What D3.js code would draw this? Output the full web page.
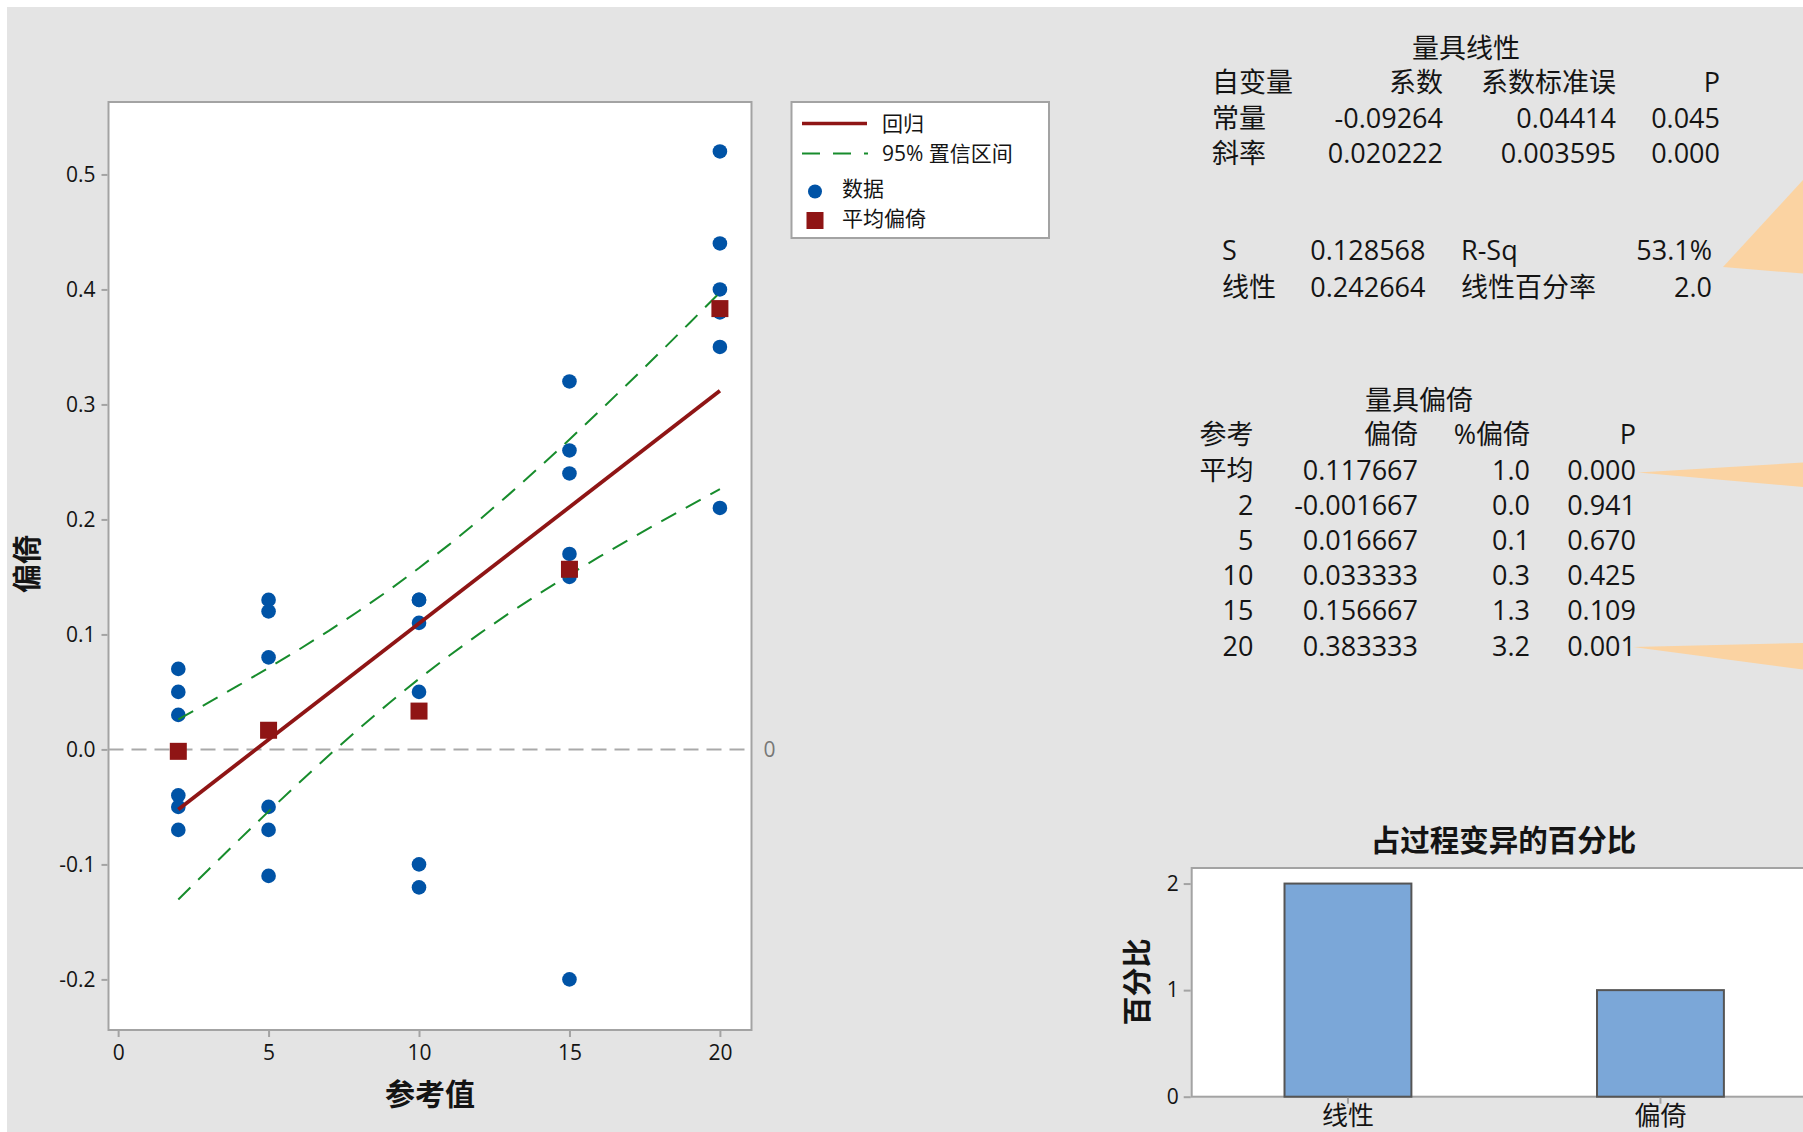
<!DOCTYPE html>
<html>
<head>
<meta charset="utf-8">
<script src="https://cdn.jsdelivr.net/npm/d3@7"></script>
<style>
  body { margin: 0; background: #ffffff; }
  svg { display: block; }
  text { font-family: 'Open Sans', 'Noto Sans CJK SC', sans-serif; }
</style>
</head>
<body>
<svg id="chart" width="1803" height="1132"></svg>
<script>
// ---- measurements: reference value and bias of each part ----
const pointRef  = [2, 2, 2, 2, 2, 2,
                   5, 5, 5, 5, 5, 5,
                   10, 10, 10, 10, 10, 10,
                   15, 15, 15, 15, 15, 15,
                   20, 20, 20, 20, 20, 20];
const pointBias = [0.07, 0.05, 0.03, -0.04, -0.05, -0.07,
                   0.13, 0.12, 0.08, -0.05, -0.07, -0.11,
                   0.13, 0.13, 0.11, 0.05, -0.10, -0.12,
                   0.32, 0.26, 0.24, 0.17, 0.15, -0.20,
                   0.52, 0.44, 0.40, 0.38, 0.35, 0.21];

// average bias per reference value
const meanRef  = [2, 5, 10, 15, 20];
const meanBias = [-0.001667, 0.016667, 0.033333, 0.156667, 0.383333];

// fitted regression: constant, slope
const fitConstant = -0.09264;
const fitSlope = 0.020222;
const fitRange = [2, 20];

// 95% confidence band around the fit
const bandRef   = [2, 3, 4, 5, 6, 7, 8, 9, 10, 11, 12, 13, 14, 15, 16, 17, 18, 19, 20];
const bandUpper = [0.0261, 0.0407, 0.0556, 0.0709, 0.0867, 0.1031, 0.1204, 0.1385, 0.1578, 0.1781,
                   0.1995, 0.2220, 0.2454, 0.2695, 0.2943, 0.3195, 0.3451, 0.3711, 0.3973];
const bandLower = [-0.1305, -0.1046, -0.0791, -0.0539, -0.0293, -0.0053, 0.0179, 0.0402, 0.0614, 0.0815,
                   0.1005, 0.1185, 0.1356, 0.1519, 0.1676, 0.1828, 0.1976, 0.2121, 0.2263];

const xTicks = [0, 5, 10, 15, 20];
const yTicks = [-0.2, -0.1, 0.0, 0.1, 0.2, 0.3, 0.4, 0.5];

// ---- gauge linearity table ----
const linTitle = "量具线性";
const linHeader = ["自变量", "系数", "系数标准误", "P"];
const linRows = [
  ["常量", "-0.09264", "0.04414", "0.045"],
  ["斜率", "0.020222", "0.003595", "0.000"]
];
const fitStats = [
  ["S", "0.128568", "R-Sq", "53.1%"],
  ["线性", "0.242664", "线性百分率", "2.0"]
];

// ---- gauge bias table ----
const biasTitle = "量具偏倚";
const biasHeader = ["参考", "偏倚", "%偏倚", "P"];
const biasRows = [
  ["平均", "0.117667", "1.0", "0.000"],
  ["2", "-0.001667", "0.0", "0.941"],
  ["5", "0.016667", "0.1", "0.670"],
  ["10", "0.033333", "0.3", "0.425"],
  ["15", "0.156667", "1.3", "0.109"],
  ["20", "0.383333", "3.2", "0.001"]
];

// ---- percent of process variation ----
const varCategories = ["线性", "偏倚"];
const varPercent = [2.0, 1.0];
const varTicks = [0, 1, 2];

// ---- colours ----
const C = {
  bg: "#e4e4e4", frame: "#a3a3a3", ink: "#141414",
  dot: "#0053a6", mean: "#8f1515", fit: "#8f1515", band: "#178c2c",
  ref: "#a9a9a9", bar: "#7ba7d8", barEdge: "#555555", callout: "#fbd3a2"
};

const svg = d3.select("#chart");
svg.append("rect").attr("x", 7).attr("y", 7).attr("width", 1796).attr("height", 1125).attr("fill", C.bg);

// ================= bias vs reference plot =================
const P = { left: 108.5, right: 751.5, top: 102, bottom: 1030 };
const x = d3.scaleLinear().domain([-0.32, 21.05]).range([P.left, P.right]);
const y = d3.scaleLinear().domain([-0.244, 0.563]).range([P.bottom, P.top]);

svg.append("rect")
  .attr("x", P.left).attr("y", P.top)
  .attr("width", P.right - P.left).attr("height", P.bottom - P.top)
  .attr("fill", "#fff").attr("stroke", C.frame).attr("stroke-width", 2);

const yAxis = svg.append("g").attr("transform", `translate(${P.left - 1},0)`)
  .call(d3.axisLeft(y).tickValues(yTicks).tickSize(6).tickPadding(6).tickFormat(d => d.toFixed(1)));
const xAxis = svg.append("g").attr("transform", `translate(0,${P.bottom + 1})`)
  .call(d3.axisBottom(x).tickValues(xTicks).tickSize(6).tickPadding(8).tickFormat(d => String(d)));
[yAxis, xAxis].forEach(g => {
  g.select(".domain").remove();
  g.selectAll(".tick line").attr("stroke", C.frame).attr("stroke-width", 2);
  g.selectAll(".tick text").attr("fill", C.ink).style("font-size", "21px");
});

// zero reference line
svg.append("line")
  .attr("x1", P.left).attr("x2", P.right).attr("y1", y(0)).attr("y2", y(0))
  .attr("stroke", C.ref).attr("stroke-width", 2).attr("stroke-dasharray", "15,8");
svg.append("text").attr("x", P.right + 12).attr("y", y(0)).attr("dy", "0.35em")
  .attr("fill", "#777").style("font-size", "21px").text("0");

// data points
svg.append("g").selectAll("circle").data(pointRef.map((r, i) => [r, pointBias[i]]))
  .join("circle")
  .attr("cx", d => x(d[0])).attr("cy", d => y(d[1])).attr("r", 7.3).attr("fill", C.dot);

// confidence band
const bandLine = d3.line().x(d => x(d[0])).y(d => y(d[1]));
[bandUpper, bandLower].forEach(vals => {
  svg.append("path").datum(bandRef.map((r, i) => [r, vals[i]]))
    .attr("d", bandLine).attr("fill", "none")
    .attr("stroke", C.band).attr("stroke-width", 2).attr("stroke-dasharray", "17,11");
});

// fitted line
svg.append("path").datum(fitRange.map(r => [r, fitConstant + fitSlope * r]))
  .attr("d", bandLine).attr("fill", "none").attr("stroke", C.fit).attr("stroke-width", 3.8);

// average bias squares
svg.append("g").selectAll("rect").data(meanRef.map((r, i) => [r, meanBias[i]]))
  .join("rect")
  .attr("x", d => x(d[0]) - 8.5).attr("y", d => y(d[1]) - 8.5)
  .attr("width", 17).attr("height", 17).attr("fill", C.mean);

// axis titles
svg.append("text").attr("x", (P.left + P.right) / 2).attr("y", 1094).attr("dy", "0.35em")
  .attr("text-anchor", "middle").attr("fill", C.ink)
  .style("font-size", "30px").style("font-weight", "bold").text("参考值");
svg.append("text").attr("transform", "translate(27.5,564) rotate(-90)").attr("dy", "0.35em")
  .attr("text-anchor", "middle").attr("fill", C.ink)
  .style("font-size", "29px").style("font-weight", "bold").text("偏倚");

// legend
const L = svg.append("g");
L.append("rect").attr("x", 791.5).attr("y", 102).attr("width", 257.5).attr("height", 136)
  .attr("fill", "#fff").attr("stroke", C.frame).attr("stroke-width", 2);
L.append("line").attr("x1", 802).attr("x2", 867).attr("y1", 123.5).attr("y2", 123.5)
  .attr("stroke", C.fit).attr("stroke-width", 3.5);
L.append("line").attr("x1", 802).attr("x2", 868).attr("y1", 153.5).attr("y2", 153.5)
  .attr("stroke", C.band).attr("stroke-width", 2).attr("stroke-dasharray", "18,13");
L.append("circle").attr("cx", 815).attr("cy", 191.5).attr("r", 7).attr("fill", C.dot);
L.append("rect").attr("x", 806.5).attr("y", 212).attr("width", 17).attr("height", 17).attr("fill", C.mean);
[["回归", 882, 130.5], ["95% 置信区间", 882, 160.5], ["数据", 842, 196], ["平均偏倚", 842, 225.5]]
  .forEach(([t, tx, ty]) => L.append("text").attr("x", tx).attr("y", ty)
    .attr("fill", C.ink).style("font-size", "21px").text(t));

// ================= callout shapes =================
const callouts = [
  [[1723, 267], [1803, 180], [1803, 273.5]],
  [[1638, 472.5], [1803, 462.5], [1803, 487]],
  [[1633, 647], [1803, 643], [1803, 669.5]]
];
svg.append("g").selectAll("polygon").data(callouts).join("polygon")
  .attr("points", d => d.map(p => p.join(",")).join(" ")).attr("fill", C.callout);

// ================= text tables =================
function row(cells, cols, yBase, size) {
  cells.forEach((t, i) => {
    const [cx, anchor] = cols[i];
    svg.append("text").attr("x", cx).attr("y", yBase).attr("text-anchor", anchor)
      .attr("fill", C.ink).style("font-size", size + "px").text(t);
  });
}

// linearity
svg.append("text").attr("x", 1466).attr("y", 58).attr("text-anchor", "middle")
  .attr("fill", C.ink).style("font-size", "27px").text(linTitle);
const linCols = [[1212, "start"], [1443, "end"], [1616, "end"], [1720, "end"]];
row(linHeader, linCols, 92, 27);
linRows.forEach((r, i) => row(r, linCols, 127.5 + i * 35.8, 27));
const statCols = [[1222, "start"], [1425.5, "end"], [1461, "start"], [1712, "end"]];
fitStats.forEach((r, i) => row(r, statCols, 260 + i * 36.7, 27));

// bias
svg.append("text").attr("x", 1419).attr("y", 409.5).attr("text-anchor", "middle")
  .attr("fill", C.ink).style("font-size", "27px").text(biasTitle);
const biasCols = [[1253.5, "end"], [1418, "end"], [1530, "end"], [1636, "end"]];
row(biasHeader, biasCols, 444, 27);
biasRows.forEach((r, i) => row(r, biasCols, 480 + i * 35.1, 27));

// ================= percent of process variation =================
const B = { left: 1191.7, right: 1830, top: 868, bottom: 1096.7 };
const by = d3.scaleLinear().domain([0, 2.146]).range([B.bottom, B.top]);
const bx = d3.scaleBand().domain(varCategories).range([B.left, B.left + 625])
  .paddingInner(0.594).paddingOuter(0.297);

svg.append("rect").attr("x", B.left).attr("y", B.top)
  .attr("width", B.right - B.left).attr("height", B.bottom - B.top)
  .attr("fill", "#fff").attr("stroke", C.frame).attr("stroke-width", 2);

svg.append("g").selectAll("rect").data(varCategories)
  .join("rect")
  .attr("x", d => bx(d)).attr("width", bx.bandwidth())
  .attr("y", (d, i) => by(varPercent[i])).attr("height", (d, i) => B.bottom - by(varPercent[i]))
  .attr("fill", C.bar).attr("stroke", C.barEdge).attr("stroke-width", 2);

const byAxis = svg.append("g").attr("transform", `translate(${B.left - 1},0)`)
  .call(d3.axisLeft(by).tickValues(varTicks).tickSize(7).tickPadding(5).tickFormat(d => String(d)));
const bxAxis = svg.append("g").attr("transform", `translate(0,${B.bottom + 1})`)
  .call(d3.axisBottom(bx).tickSize(6).tickPadding(3));
byAxis.selectAll(".tick text").style("font-size", "21px");
bxAxis.selectAll(".tick text").style("font-size", "26px");
[byAxis, bxAxis].forEach(g => {
  g.select(".domain").remove();
  g.selectAll(".tick line").attr("stroke", C.frame).attr("stroke-width", 2);
  g.selectAll(".tick text").attr("fill", C.ink);
});

svg.append("text").attr("x", 1503.5).attr("y", 851).attr("text-anchor", "middle")
  .attr("fill", C.ink).style("font-size", "29.5px").style("font-weight", "bold").text("占过程变异的百分比");
svg.append("text").attr("transform", "translate(1138,982) rotate(-90)").attr("dy", "0.35em")
  .attr("text-anchor", "middle").attr("fill", C.ink)
  .style("font-size", "29px").style("font-weight", "bold").text("百分比");
</script>
</body>
</html>
